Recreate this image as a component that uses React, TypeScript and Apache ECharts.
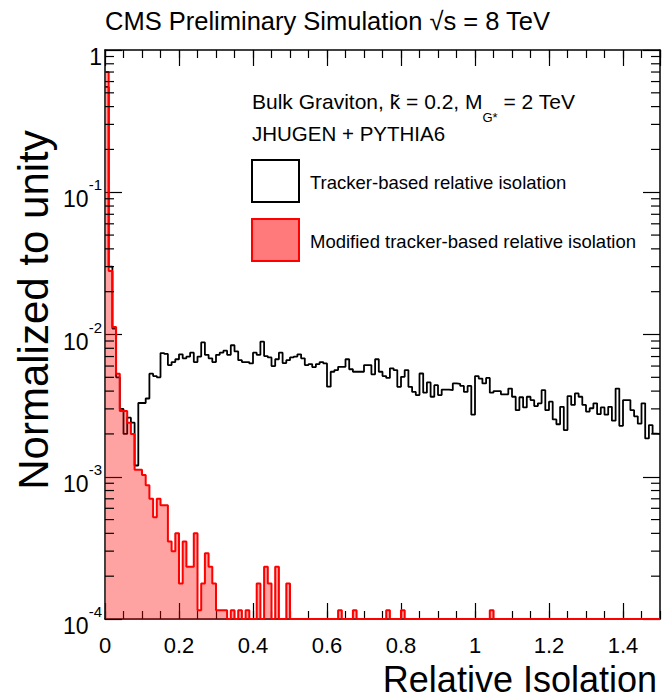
import React, { useEffect, useRef } from "react";
import * as echarts from "echarts";

const BIN_WIDTH = 0.01;
const X_MIN = 0;
const X_MAX = 1.5;
const Y_MIN = 1e-4;
const Y_MAX = 1;

// Tracker-based relative isolation (black outline), 150 bins of 0.01
const trackerIso = [
  0.55, 0.03, 0.011, 5.0e-3, 3.0e-3, 2.0e-3, 2.6e-3, 2.4e-3, 1.2e-3, 3.3e-3,
  3.3e-3, 3.55e-3, 5.3e-3, 5.1e-3, 5.0e-3, 7.4e-3, 7.3e-3, 6.1e-3, 6.4e-3, 6.7e-3,
  7.25e-3, 6.8e-3, 7.0e-3, 7.45e-3, 6.4e-3, 7.0e-3, 8.8e-3, 7.2e-3, 6.8e-3, 6.4e-3,
  7.2e-3, 7.45e-3, 7.7e-3, 7.2e-3, 8.4e-3, 7.6e-3, 6.6e-3, 6.4e-3, 6.4e-3, 6.26e-3,
  7.45e-3, 7.2e-3, 8.9e-3, 7.05e-3, 6.9e-3, 6.0e-3, 6.7e-3, 7.45e-3, 6.3e-3, 6.6e-3,
  6.9e-3, 7.0e-3, 7.25e-3, 6.8e-3, 6.1e-3, 6.2e-3, 5.9e-3, 6.2e-3, 6.4e-3, 6.26e-3,
  4.3e-3, 5.47e-3, 5.62e-3, 5.93e-3, 5.93e-3, 6.7e-3, 5.7e-3, 5.47e-3, 5.47e-3, 5.47e-3,
  6.1e-3, 6.1e-3, 5.25e-3, 6.7e-3, 5.47e-3, 5.1e-3, 4.95e-3, 5.78e-3, 5.62e-3, 4.29e-3,
  5.04e-3, 5.62e-3, 4.29e-3, 3.95e-3, 3.75e-3, 5.32e-3, 3.9e-3, 4.6e-3, 3.65e-3, 4.4e-3,
  3.75e-3, 4.1e-3, 4.1e-3, 4.06e-3, 4.53e-3, 4.5e-3, 4.35e-3, 3.95e-3, 4.35e-3, 2.73e-3,
  5.1e-3, 4.9e-3, 4.53e-3, 4.95e-3, 3.9e-3, 4.0e-3, 4.0e-3, 3.8e-3, 3.8e-3, 4.17e-3,
  3.65e-3, 2.94e-3, 3.62e-3, 3.07e-3, 3.65e-3, 3.46e-3, 3.14e-3, 3.28e-3, 4.06e-3, 2.94e-3,
  3.37e-3, 2.53e-3, 2.34e-3, 3.1e-3, 2.13e-3, 3.69e-3, 3.2e-3, 3.85e-3, 3.65e-3, 3.2e-3,
  2.87e-3, 3.03e-3, 3.28e-3, 2.76e-3, 3.07e-3, 2.73e-3, 3.1e-3, 2.48e-3, 4.17e-3, 2.28e-3,
  3.46e-3, 3.46e-3, 2.94e-3, 2.66e-3, 2.36e-3, 3.28e-3, 1.86e-3, 2.31e-3, 2.01e-3, 2.0e-3,
];

// Modified tracker-based relative isolation (red filled), 150 bins of 0.01
const modifiedIso = [
  0.7, 0.028, 0.0113, 5.3e-3, 2.9e-3, 2.9e-3, 2.4e-3, 2.0e-3, 1.12e-3, 1.12e-3,
  1.03e-3, 8.7e-4, 7.0e-4, 5.2e-4, 7.0e-4, 6.3e-4, 6.3e-4, 3.5e-4, 3.0e-4, 4.0e-4,
  1.78e-4, 3.5e-4, 2.33e-4, 2.33e-4, 4.0e-4, 1.15e-4, 1.78e-4, 2.9e-4, 2.33e-4, 1.78e-4,
  1.15e-4, 1.15e-4, 1.15e-4, 0, 1.15e-4, 0, 1.15e-4, 0, 1.15e-4, 0,
  0, 1.78e-4, 0, 2.33e-4, 1.78e-4, 0, 2.33e-4, 0, 0, 1.78e-4,
  0, 0, 0, 0, 0, 0, 0, 0, 0, 0,
  0, 0, 0, 1.15e-4, 0, 0, 0, 1.15e-4, 0, 0,
  0, 0, 0, 0, 0, 0, 1.15e-4, 0, 0, 0,
  1.15e-4, 0, 0, 0, 0, 0, 0, 0, 0, 0,
  0, 0, 0, 0, 0, 0, 0, 0, 0, 0,
  0, 0, 0, 0, 1.15e-4, 0, 0, 0, 0, 0,
  0, 0, 0, 0, 0, 0, 0, 0, 0, 0,
  0, 0, 0, 0, 0, 0, 0, 0, 0, 0,
  0, 0, 0, 0, 0, 0, 0, 0, 0, 0,
  0, 0, 0, 0, 0, 0, 0, 0, 0, 0,
];

const DECADES = [1e-4, 1e-3, 1e-2, 1e-1];
const MINOR_MULTIPLIERS = [2, 3, 4, 5, 6, 7, 8, 9];

const FONT = '"Liberation Sans", Arial, Helvetica, sans-serif';

function stepData(values: number[]) {
  const pts: number[][] = values.map((v, i) => [X_MIN + i * BIN_WIDTH, v > 0 ? v : Y_MIN]);
  const last = values[values.length - 1];
  pts.push([X_MIN + values.length * BIN_WIDTH, last > 0 ? last : Y_MIN]);
  return pts;
}

function buildOption() {
  const minorTicks: number[][] = [];
  DECADES.forEach((d) => MINOR_MULTIPLIERS.forEach((m) => minorTicks.push([X_MIN, d * m])));

  const axisLineStyle = { color: "#000", width: 1.5 };
  const baseX = {
    type: "value",
    min: X_MIN,
    max: X_MAX,
    splitLine: { show: false },
  };
  const baseY = {
    type: "log",
    logBase: 10,
    min: Y_MIN,
    max: Y_MAX,
    splitLine: { show: false },
    minorTick: { show: false },
  };

  return {
    animation: false,
    backgroundColor: "#fff",
    textStyle: { fontFamily: FONT },
    grid: { left: 105, right: 2, top: 50, bottom: 79, containLabel: false, outerBoundsMode: "none" },
    xAxis: [
      {
        ...baseX,
        interval: 0.2,
        position: "bottom",
        axisLine: { show: true, onZero: false, lineStyle: axisLineStyle },
        axisTick: { show: true, inside: true, length: 16, lineStyle: { color: "#000", width: 1.2 } },
        axisLabel: {
          show: true,
          fontSize: 22,
          fontFamily: FONT,
          color: "#000",
          margin: 15,
          showMaxLabel: false,
          formatter: (v: number) => String(Number(v.toFixed(1))),
        },
      },
      {
        ...baseX,
        interval: 0.05,
        position: "bottom",
        axisLine: { show: false, onZero: false },
        axisTick: { show: true, inside: true, length: 8, lineStyle: { color: "#000", width: 1.2 } },
        axisLabel: { show: false },
      },
      {
        ...baseX,
        interval: 0.2,
        position: "top",
        axisLine: { show: true, onZero: false, lineStyle: axisLineStyle },
        axisTick: { show: true, inside: true, length: 16, lineStyle: { color: "#000", width: 1.2 } },
        axisLabel: { show: false },
      },
      {
        ...baseX,
        interval: 0.05,
        position: "top",
        axisLine: { show: false, onZero: false },
        axisTick: { show: true, inside: true, length: 8, lineStyle: { color: "#000", width: 1.2 } },
        axisLabel: { show: false },
      },
    ],
    yAxis: [
      {
        ...baseY,
        position: "left",
        axisLine: { show: true, onZero: false, lineStyle: axisLineStyle },
        axisTick: { show: true, inside: true, length: 17, lineStyle: { color: "#000", width: 1.2 } },
        axisLabel: {
          show: true,
          margin: 3,
          color: "#000",
          formatter: (v: number) => {
            const e = Math.round(Math.log10(v));
            return e === 0 ? "{b|1}" : "{b|10}{s|" + e + "}";
          },
          rich: {
            b: { fontSize: 23, fontFamily: FONT, color: "#000", lineHeight: 30, padding: [14, 0, 0, 0] },
            s: { fontSize: 15, fontFamily: FONT, color: "#000", lineHeight: 30, verticalAlign: "top" },
          },
        },
      },
      {
        ...baseY,
        position: "right",
        axisLine: { show: true, onZero: false, lineStyle: axisLineStyle },
        axisTick: { show: true, inside: true, length: 17, lineStyle: { color: "#000", width: 1.2 } },
        axisLabel: { show: false },
      },
    ],
    series: [
      {
        name: "Tracker-based relative isolation",
        type: "line",
        step: "end",
        xAxisIndex: 0,
        yAxisIndex: 0,
        data: stepData(trackerIso),
        showSymbol: false,
        symbol: "none",
        lineStyle: { color: "#000", width: 1.8 },
        z: 2,
      },
      {
        name: "Modified tracker-based relative isolation",
        type: "line",
        step: "end",
        xAxisIndex: 0,
        yAxisIndex: 0,
        data: stepData(modifiedIso),
        showSymbol: false,
        symbol: "none",
        lineStyle: { color: "#ff0000", width: 2 },
        areaStyle: { color: "rgba(255,0,0,0.52)", origin: "start" },
        z: 3,
      },
      {
        type: "custom",
        xAxisIndex: 0,
        yAxisIndex: 0,
        silent: true,
        z: 5,
        data: minorTicks,
        renderItem: (params: any, api: any) => {
          const cs = params.coordSys;
          const p = api.coord([api.value(0), api.value(1)]);
          const y = p[1];
          const st = { stroke: "#000", lineWidth: 1.2 };
          return {
            type: "group",
            children: [
              { type: "line", shape: { x1: cs.x, y1: y, x2: cs.x + 9, y2: y }, style: st },
              { type: "line", shape: { x1: cs.x + cs.width - 9, y1: y, x2: cs.x + cs.width, y2: y }, style: st },
            ],
          };
        },
      },
    ],
    graphic: [
      {
        type: "text",
        x: 105,
        y: 21,
        style: {
          text: "CMS Preliminary Simulation √s = 8 TeV",
          fontSize: 25.5,
          fontFamily: FONT,
          fill: "#000",
          verticalAlign: "middle",
        },
      },
      {
        type: "text",
        x: 33,
        y: 310,
        rotation: Math.PI / 2,
        style: {
          text: "Normalized to unity",
          fontSize: 42,
          fontFamily: FONT,
          fill: "#000",
          align: "center",
          verticalAlign: "middle",
        },
      },
      {
        type: "text",
        x: 657,
        y: 679,
        style: {
          text: "Relative Isolation",
          fontSize: 36,
          fontFamily: FONT,
          fill: "#000",
          align: "right",
          verticalAlign: "middle",
        },
      },
      {
        type: "text",
        x: 252,
        y: 101,
        style: {
          text: "{n|Bulk Graviton, k̃ = 0.2, M}{sub|G*}{n| = 2 TeV}",
          verticalAlign: "middle",
          rich: {
            n: { fontSize: 21, fontFamily: FONT, fill: "#000", lineHeight: 28 },
            sub: { fontSize: 13, fontFamily: FONT, fill: "#000", lineHeight: 28, verticalAlign: "bottom", padding: [0, 0, -9, 0] },
          },
        },
      },
      {
        type: "text",
        x: 252,
        y: 133,
        style: { text: "JHUGEN + PYTHIA6", fontSize: 20.5, fontFamily: FONT, fill: "#000", verticalAlign: "middle" },
      },
      {
        type: "rect",
        shape: { x: 252, y: 160, width: 47, height: 42 },
        style: { fill: "#fff", stroke: "#000", lineWidth: 2 },
      },
      {
        type: "text",
        x: 310,
        y: 182,
        style: { text: "Tracker-based relative isolation", fontSize: 18.5, fontFamily: FONT, fill: "#000", verticalAlign: "middle" },
      },
      {
        type: "rect",
        shape: { x: 252, y: 219, width: 47, height: 42 },
        style: { fill: "rgba(255,0,0,0.52)", stroke: "#ff0000", lineWidth: 2 },
      },
      {
        type: "text",
        x: 310,
        y: 241,
        style: { text: "Modified tracker-based relative isolation", fontSize: 18.5, fontFamily: FONT, fill: "#000", verticalAlign: "middle" },
      },
    ],
  };
}

export default function App() {
  const ref = useRef<HTMLDivElement>(null);
  useEffect(() => {
    if (!ref.current) return;
    const chart = echarts.init(ref.current, null, { renderer: "svg" });
    chart.setOption(buildOption() as any);
    return () => chart.dispose();
  }, []);
  return (
    <div
      ref={ref}
      style={{ position: "absolute", left: 0, top: 0, width: 662, height: 698, background: "#fff" }}
    />
  );
}
